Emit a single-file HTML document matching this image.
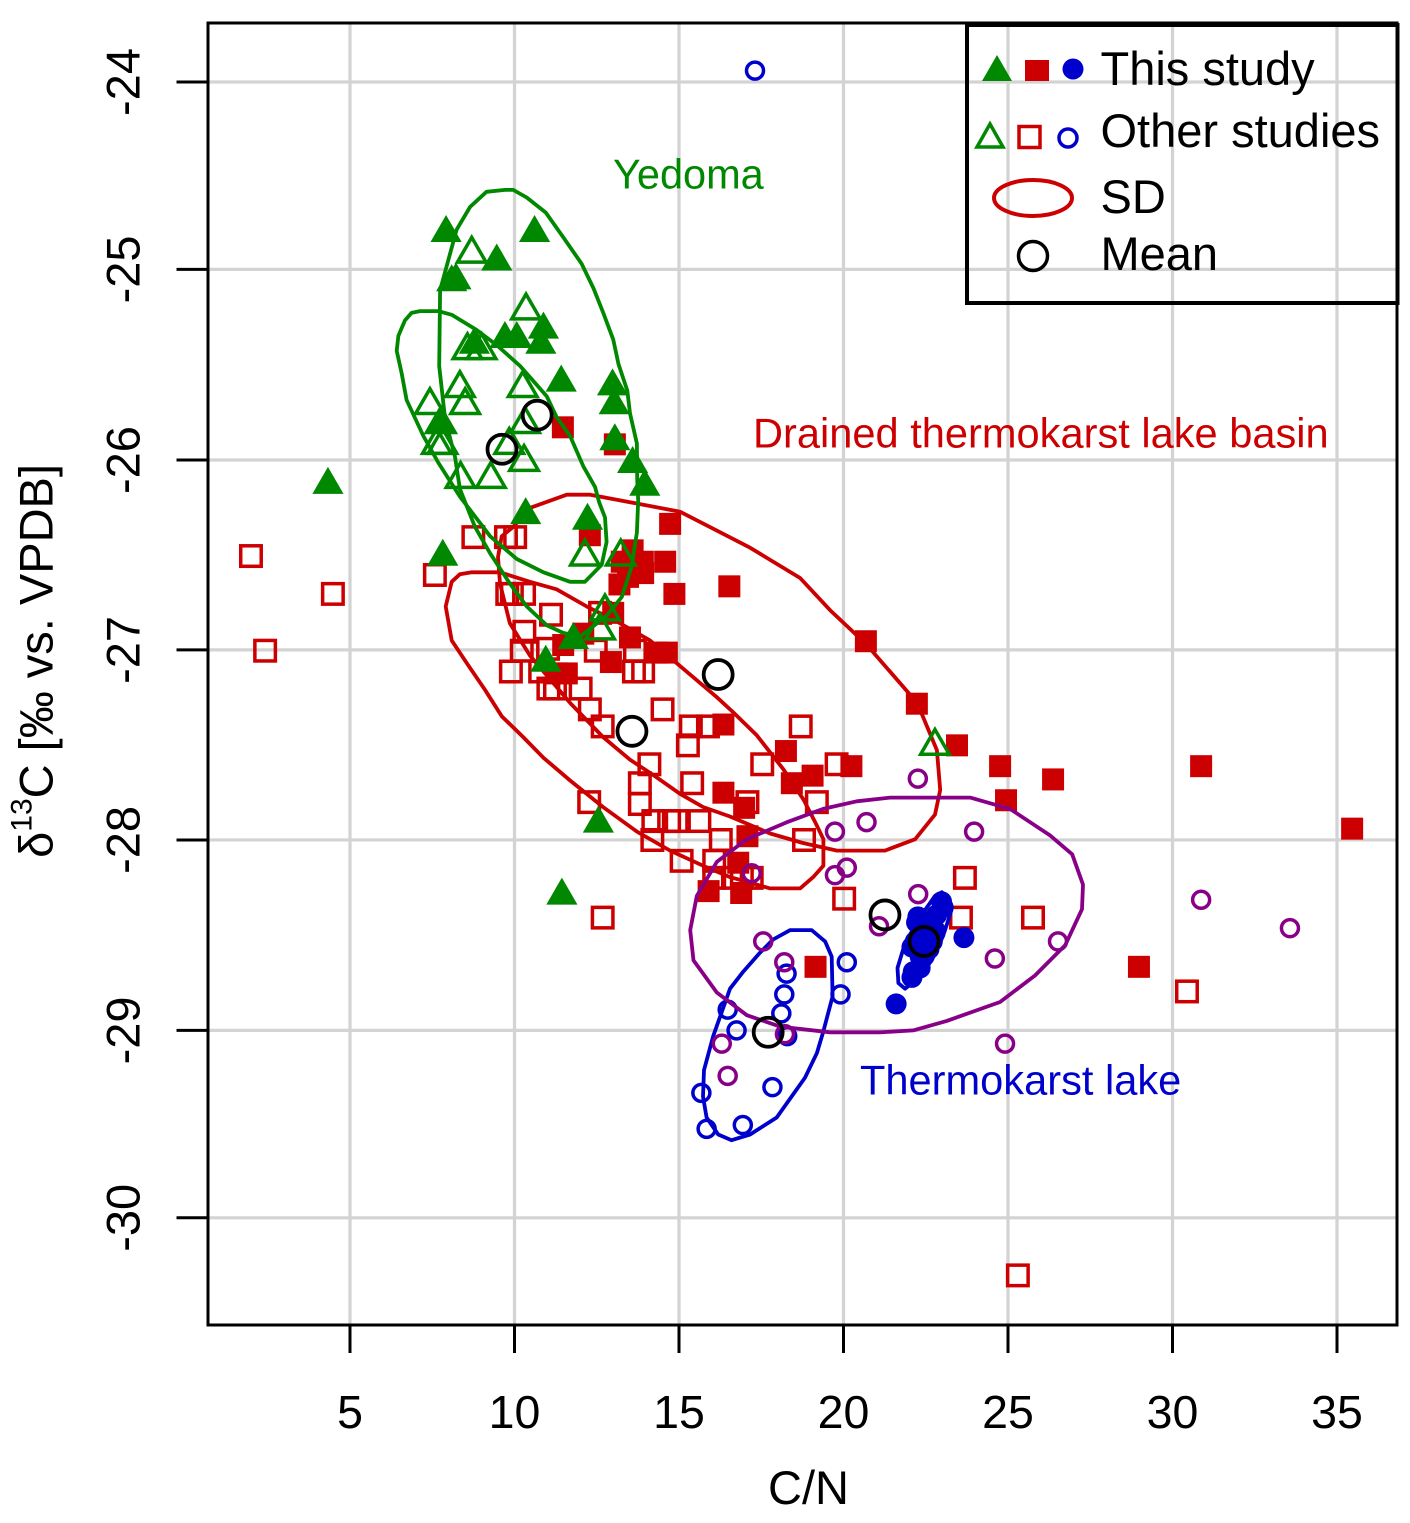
<!DOCTYPE html>
<html lang="en">
<head>
<meta charset="utf-8">
<title>C/N vs δ13C scatter chart</title>
<style>
html,body{margin:0;padding:0;background:#fff;}
svg{display:block;font-family:"Liberation Sans",Arial,sans-serif;}
</style>
</head>
<body>
<svg id="chart" xmlns="http://www.w3.org/2000/svg" width="1410" height="1523" viewBox="0 0 1410 1523">
  <g id="grid"></g>
  <g id="marks"></g>
  <rect x="208" y="23" width="1189" height="1302" fill="none" stroke="#000" stroke-width="3"/>
  <g id="axes"></g>
  <text x="808.500" y="1504" font-size="47" text-anchor="middle">C/N</text>
  <text transform="translate(52.700,661) rotate(-90)" font-size="47" text-anchor="middle">δ<tspan font-size="30" dy="-21">13</tspan><tspan dy="21">C [‰ vs. VPDB]</tspan></text>
  <text x="613" y="188.500" font-size="41.500" fill="#008800">Yedoma</text>
  <text x="753" y="447.500" font-size="41.600" fill="#cc0000">Drained thermokarst lake basin</text>
  <text x="860" y="1094.500" font-size="41.600" fill="#0000cc">Thermokarst lake</text>
  <g>
    <rect x="967" y="25" width="430.500" height="278" fill="none" stroke="#000" stroke-width="4"/>
    <polygon points="997,55 1012,81 982,81" fill="#008800"/>
    <rect x="1025" y="60" width="24" height="21" fill="#cc0000"/>
    <circle cx="1073" cy="69" r="10.500" fill="#0000cc"/>
    <polygon points="990,124 1003,147 977,147" fill="none" stroke="#008800" stroke-width="3.500"/>
    <rect x="1019" y="126.500" width="21" height="21" fill="none" stroke="#cc0000" stroke-width="3.500"/>
    <circle cx="1068" cy="138" r="9" fill="none" stroke="#0000cc" stroke-width="3.500"/>
    <ellipse cx="1033" cy="198" rx="39" ry="18" fill="none" stroke="#cc0000" stroke-width="4"/>
    <circle cx="1033" cy="256" r="14.500" fill="none" stroke="#000" stroke-width="3.500"/>
    <text x="1100.500" y="85" font-size="47">This study</text>
    <text x="1100.500" y="147" font-size="47">Other studies</text>
    <text x="1100.500" y="213" font-size="47">SD</text>
    <text x="1100.500" y="270" font-size="47">Mean</text>
  </g>
</svg>
<script>
var xTicks = [5, 10, 15, 20, 25, 30, 35];
var yTickLabels = ['-24', '-25', '-26', '-27', '-28', '-29', '-30'];
var yTickValues = [-24, -24.99, -25.997, -27, -28.004, -29.01, -30];

var yedomaThisStudy = [[7.92,-24.79],[10.61,-24.79],[9.46,-24.94],[8.22,-25.04],[8.09,-25.05],[8.78,-25.38],[9.71,-25.35],[10.07,-25.35],[10.88,-25.30],[10.80,-25.38],[11.42,-25.58],[12.98,-25.60],[13.03,-25.70],[13.05,-25.89],[7.76,-25.80],[13.59,-26.01],[13.96,-26.13],[10.34,-26.28],[12.22,-26.31],[4.33,-26.12],[7.82,-26.50],[11.79,-26.94],[10.95,-27.06],[12.55,-27.91],[11.44,-28.29]];
var yedomaOther = [[8.70,-24.90],[10.35,-25.20],[8.57,-25.41],[9.00,-25.41],[10.25,-25.61],[8.34,-25.61],[8.50,-25.70],[7.43,-25.70],[7.76,-25.80],[7.81,-25.91],[7.64,-25.91],[10.32,-25.80],[9.84,-25.91],[10.29,-26.00],[8.36,-26.09],[9.28,-26.09],[12.14,-26.50],[13.23,-26.50],[12.75,-26.79],[12.60,-26.89],[22.78,-27.50]];
var basinThisStudy = [[11.47,-25.82],[13.05,-25.91],[14.73,-26.33],[12.29,-26.39],[13.59,-26.47],[13.26,-26.53],[13.90,-26.53],[14.58,-26.53],[13.91,-26.59],[13.19,-26.65],[13.45,-26.61],[14.86,-26.70],[16.53,-26.66],[13.00,-26.80],[12.09,-26.91],[11.48,-26.97],[13.51,-26.93],[14.32,-27.01],[14.63,-27.01],[12.93,-27.06],[11.59,-27.12],[11.28,-27.12],[16.35,-27.39],[18.25,-27.53],[18.43,-27.70],[19.06,-27.66],[20.24,-27.61],[16.35,-27.75],[16.98,-27.83],[17.08,-27.98],[16.80,-28.12],[15.90,-28.27],[16.89,-28.28],[20.68,-26.95],[22.23,-27.28],[23.45,-27.50],[24.76,-27.61],[24.94,-27.79],[26.37,-27.68],[30.87,-27.61],[35.46,-27.94],[28.98,-28.67],[19.15,-28.67]];
var basinOther = [[1.99,-26.50],[4.48,-26.70],[2.42,-27.00],[7.58,-26.60],[25.30,-30.30],[30.44,-28.80],[25.76,-28.41],[23.69,-28.20],[23.57,-28.41],[20.02,-28.31],[12.68,-28.41],[12.27,-27.80],[8.75,-26.40],[9.74,-26.40],[10.02,-26.40],[9.78,-26.70],[9.92,-26.70],[10.29,-26.70],[11.11,-26.81],[10.30,-26.90],[10.22,-27.00],[11.02,-26.99],[12.60,-26.80],[12.47,-27.00],[9.89,-27.11],[10.78,-27.11],[11.03,-27.20],[11.23,-27.20],[12.01,-27.20],[12.29,-27.31],[12.68,-27.40],[13.63,-27.11],[13.91,-27.11],[13.66,-27.00],[14.50,-27.31],[15.36,-27.40],[15.88,-27.40],[15.27,-27.50],[18.70,-27.40],[14.10,-27.60],[17.53,-27.60],[19.79,-27.60],[13.81,-27.70],[15.40,-27.70],[13.81,-27.81],[17.08,-27.80],[19.19,-27.80],[14.22,-27.90],[14.70,-27.90],[14.93,-27.90],[15.62,-27.90],[14.19,-28.00],[16.27,-28.00],[18.80,-28.00],[15.08,-28.11],[16.07,-28.11],[16.07,-28.20],[16.64,-28.20],[16.91,-28.20],[17.21,-28.20]];
var lakeThisStudy = [[21.60,-28.87],[23.66,-28.52],[22.98,-28.33],[23.03,-28.36],[22.83,-28.40],[22.63,-28.45],[22.78,-28.48],[22.26,-28.41],[22.22,-28.44],[22.43,-28.49],[22.08,-28.57],[22.18,-28.54],[22.70,-28.54],[22.42,-28.56],[22.60,-28.58],[22.33,-28.62],[22.33,-28.68],[22.12,-28.70],[22.08,-28.73]];
var lakeOther = [[17.31,-23.94],[20.10,-28.65],[18.27,-28.71],[18.20,-28.82],[19.91,-28.82],[18.11,-28.92],[16.48,-28.90],[16.75,-29.01],[18.29,-29.04],[17.84,-29.31],[15.68,-29.34],[15.84,-29.53],[16.94,-29.51]];
var purpleOther = [[17.56,-28.54],[18.20,-28.65],[18.22,-29.03],[16.30,-29.08],[16.48,-29.25],[22.27,-28.29],[21.08,-28.46],[24.60,-28.63],[24.91,-29.08],[19.74,-27.96],[20.70,-27.91],[20.10,-28.15],[19.74,-28.19],[17.21,-28.18],[22.26,-27.68],[23.97,-27.96],[30.87,-28.32],[33.57,-28.47],[26.52,-28.54]];
var means = [[10.69,-25.76],[9.62,-25.94],[13.57,-27.43],[16.19,-27.13],[21.26,-28.40],[22.45,-28.54],[17.71,-29.02]];

var sdYedomaThisStudy = [[9.15,-24.58],[9.71,-24.57],[9.96,-24.57],[10.37,-24.61],[10.95,-24.69],[11.48,-24.82],[12.04,-24.96],[12.40,-25.09],[12.70,-25.22],[13.00,-25.36],[13.16,-25.49],[13.43,-25.63],[13.51,-25.75],[13.72,-25.91],[13.73,-26.10],[13.76,-26.21],[13.72,-26.38],[13.56,-26.56],[13.26,-26.72],[12.80,-26.82],[11.99,-26.93],[11.48,-26.91],[10.98,-26.87],[10.37,-26.77],[9.86,-26.65],[9.26,-26.49],[8.80,-26.35],[8.34,-26.15],[8.19,-25.98],[7.89,-25.78],[7.71,-25.50],[7.74,-25.10],[8.24,-24.78],[8.65,-24.66]];
var sdYedomaOther = [[7.13,-25.21],[7.68,-25.21],[8.09,-25.23],[8.85,-25.31],[9.46,-25.39],[10.17,-25.50],[10.98,-25.66],[11.28,-25.77],[11.69,-25.87],[12.09,-26.03],[12.45,-26.14],[12.57,-26.22],[12.75,-26.30],[12.80,-26.43],[12.65,-26.55],[12.14,-26.64],[11.69,-26.64],[10.88,-26.59],[10.07,-26.52],[9.26,-26.40],[8.34,-26.19],[7.68,-26.01],[7.23,-25.87],[6.72,-25.68],[6.57,-25.54],[6.42,-25.42],[6.47,-25.34],[6.67,-25.26],[6.87,-25.22]];
var sdBasinThisStudy = [[10.47,-26.25],[11.59,-26.18],[12.30,-26.18],[13.51,-26.22],[15.03,-26.27],[16.15,-26.37],[17.16,-26.46],[18.68,-26.62],[19.59,-26.79],[20.69,-26.97],[22.24,-27.28],[22.84,-27.53],[22.94,-27.74],[22.78,-27.87],[22.18,-28.00],[21.26,-28.06],[20.71,-28.06],[19.80,-28.06],[18.77,-28.02],[17.77,-27.97],[16.55,-27.88],[15.73,-27.83],[15.03,-27.76],[14.21,-27.66],[13.51,-27.58],[12.69,-27.46],[11.69,-27.28],[10.47,-27.03],[9.86,-26.86],[9.56,-26.65],[9.50,-26.51],[9.61,-26.40],[9.96,-26.35]];
var sdBasinOther = [[8.70,-26.59],[9.56,-26.59],[10.47,-26.64],[11.28,-26.68],[12.19,-26.77],[13.11,-26.85],[14.12,-26.95],[14.93,-27.07],[16.15,-27.25],[16.65,-27.33],[17.36,-27.45],[18.17,-27.63],[18.78,-27.79],[19.14,-27.91],[19.39,-28.00],[19.39,-28.14],[19.08,-28.20],[18.68,-28.26],[17.77,-28.26],[16.55,-28.20],[15.73,-28.14],[14.73,-28.06],[13.72,-27.96],[12.69,-27.83],[11.69,-27.69],[10.88,-27.57],[10.26,-27.46],[9.61,-27.35],[9.10,-27.21],[8.55,-27.07],[8.09,-26.95],[7.91,-26.77],[8.09,-26.64],[8.34,-26.60]];
var sdPurple = [[15.34,-28.48],[15.54,-28.30],[16.15,-28.12],[17.06,-28.00],[18.28,-27.91],[19.38,-27.84],[20.40,-27.80],[21.42,-27.78],[23.85,-27.78],[25.06,-27.84],[26.28,-27.98],[26.95,-28.08],[27.28,-28.24],[27.25,-28.37],[26.74,-28.56],[25.82,-28.72],[24.76,-28.86],[23.14,-28.96],[22.12,-29.01],[21.11,-29.02],[19.59,-29.02],[18.07,-28.99],[17.06,-28.93],[16.15,-28.81],[15.44,-28.64]];
var sdLakeOther = [[18.38,-28.48],[19.03,-28.48],[19.44,-28.54],[19.64,-28.62],[19.67,-28.83],[19.38,-29.02],[19.19,-29.13],[18.83,-29.26],[17.97,-29.47],[17.16,-29.56],[16.60,-29.59],[16.19,-29.56],[15.84,-29.47],[15.73,-29.36],[15.76,-29.22],[16.04,-29.04],[16.55,-28.79],[16.95,-28.70],[17.46,-28.60],[17.86,-28.53]];
var sdLakeThisStudy = [[22.99,-28.28],[23.29,-28.37],[23.18,-28.43],[23.03,-28.51],[22.68,-28.64],[22.23,-28.74],[21.87,-28.79],[21.67,-28.76],[21.64,-28.68],[21.87,-28.55],[22.33,-28.41],[22.78,-28.30]];

var NS = 'http://www.w3.org/2000/svg';
var RED = '#cc0000', GREEN = '#008800', BLUE = '#0000cc', PURPLE = '#880088';
function xScale(v) { return 350 + (v - 5) * 32.9; }
function yScale(v) { return 82 + (-24 - v) * 189.3; }
function make(parent, tag, attrs) {
  var el = document.createElementNS(NS, tag);
  for (var k in attrs) el.setAttribute(k, attrs[k]);
  parent.appendChild(el);
  return el;
}
var gridG = document.getElementById('grid');
var axesG = document.getElementById('axes');
var marksG = document.getElementById('marks');

xTicks.forEach(function (t) {
  var x = xScale(t);
  var gl = make(gridG, 'line', {x1: x, x2: x, y1: 23, y2: 1325, stroke: '#d3d3d3', 'stroke-width': 3.2});
  
  
  var tk = make(axesG, 'line', {x1: x, x2: x, y1: 1325, y2: 1353, stroke: '#000', 'stroke-width': 3});
  
  
  var lb = make(axesG, 'text', {x: x, y: 1428, 'font-size': 46.5, 'text-anchor': 'middle'});
  
  
  lb.textContent = t;
});
yTickValues.forEach(function (t, i) {
  var y = yScale(t);
  var gl = make(gridG, 'line', {x1: 208, x2: 1397, y1: y, y2: y, stroke: '#d3d3d3', 'stroke-width': 3.2});
  
  
  var tk = make(axesG, 'line', {x1: 176.5, x2: 208, y1: y, y2: y, stroke: '#000', 'stroke-width': 3});
  
  
  var lb = make(axesG, 'text', {transform: 'translate(139.5,' + y + ') rotate(-90)', 'font-size': 47, 'text-anchor': 'middle'});
  
  
  lb.textContent = yTickLabels[i];
});

function square(p, color, filled, name) {
  var s = filled ? 22 : 20.5;
  var el = make(marksG, 'rect', {x: xScale(p[0]) - s / 2, y: yScale(p[1]) + 0.8 - s / 2, width: s, height: s,
    fill: filled ? color : 'none', stroke: filled ? 'none' : color, 'stroke-width': 3.5});
  
  
}
function triangle(p, color, filled, name) {
  var cx = xScale(p[0]), cy = yScale(p[1]) + 1.5;
  var r = filled ? 18 : 16.5, w = r * 0.866;
  var pts = cx + ',' + (cy - r) + ' ' + (cx + w) + ',' + (cy + r / 2) + ' ' + (cx - w) + ',' + (cy + r / 2);
  var el = make(marksG, 'polygon', {points: pts, fill: filled ? color : 'none', stroke: filled ? 'none' : color, 'stroke-width': 3.5});
  
  
}
function circle(p, color, filled, r, sw, name) {
  var el = make(marksG, 'circle', {cx: xScale(p[0]), cy: yScale(p[1]), r: r,
    fill: filled ? color : 'none', stroke: filled ? 'none' : color, 'stroke-width': sw});
  
  
}
function outline(points, color, name) {
  var pts = points.map(function (p) { return xScale(p[0]).toFixed(1) + ',' + yScale(p[1]).toFixed(1); }).join(' ');
  var el = make(marksG, 'polygon', {points: pts, fill: 'none', stroke: color, 'stroke-width': 3.8, 'stroke-linejoin': 'round'});
  
  
}

basinOther.forEach(function (p) { square(p, RED, false, 'basin-other-study-point'); });
basinThisStudy.forEach(function (p) { square(p, RED, true, 'basin-this-study-point'); });
outline(sdBasinThisStudy, RED, 'sd-basin-this-study');
outline(sdBasinOther, RED, 'sd-basin-other-studies');
yedomaOther.forEach(function (p) { triangle(p, GREEN, false, 'yedoma-other-study-point'); });
yedomaThisStudy.forEach(function (p) { triangle(p, GREEN, true, 'yedoma-this-study-point'); });
outline(sdYedomaThisStudy, GREEN, 'sd-yedoma-this-study');
outline(sdYedomaOther, GREEN, 'sd-yedoma-other-studies');
lakeOther.forEach(function (p) { circle(p, BLUE, false, 8.5, 3.5, 'lake-other-study-point'); });
lakeThisStudy.forEach(function (p) { circle(p, BLUE, true, 10.5, 0, 'lake-this-study-point'); });
outline(sdLakeOther, BLUE, 'sd-lake-other-studies');
outline(sdLakeThisStudy, BLUE, 'sd-lake-this-study');
purpleOther.forEach(function (p) { circle(p, PURPLE, false, 8.5, 3.5, 'purple-other-study-point'); });
outline(sdPurple, PURPLE, 'sd-lake-purple');
means.forEach(function (p) { circle(p, '#000', false, 14.5, 3.8, 'mean-marker'); });
</script>
</body>
</html>
